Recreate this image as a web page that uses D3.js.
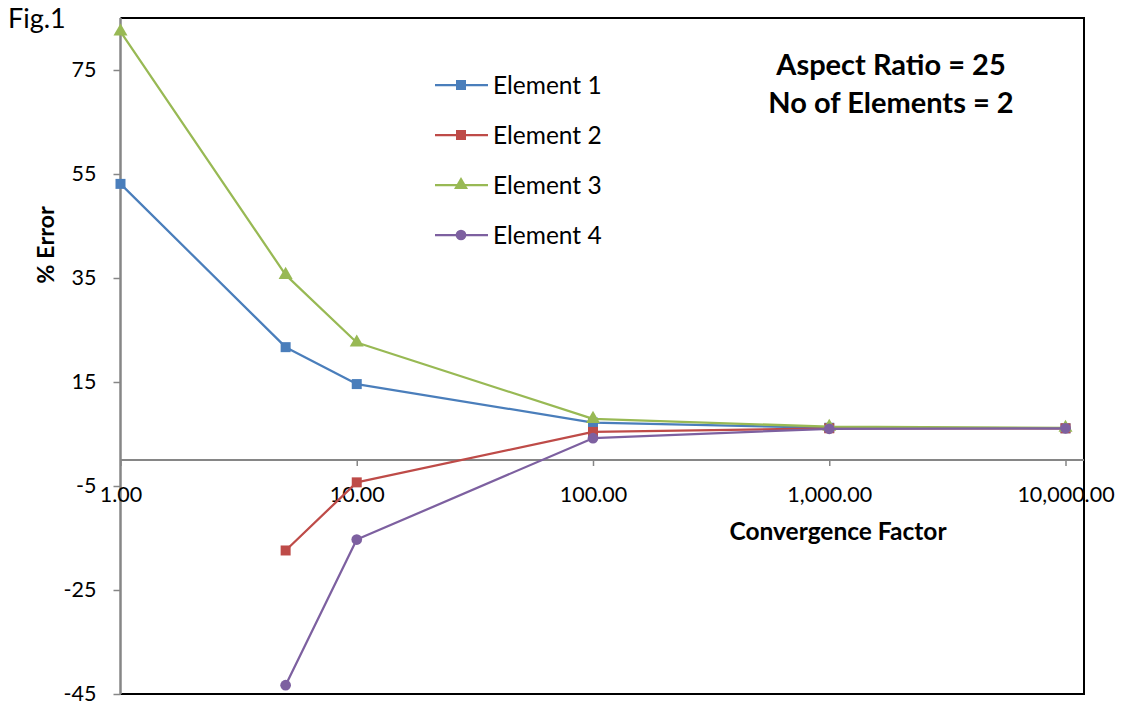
<!DOCTYPE html>
<html>
<head>
<meta charset="utf-8">
<script src="https://cdn.jsdelivr.net/npm/d3@7"></script>
<style>
  html, body { margin: 0; padding: 0; background: #ffffff; }
  svg { display: block; }
  text { font-family: Lato, "Open Sans", "Liberation Sans", sans-serif; fill: #000; }
</style>
</head>
<body>
<svg id="chart" width="1128" height="707"></svg>
<script>
// Convergence factor values on the (log) x axis
const factors = [1, 5, 10, 100, 1000, 10000];

// % error for each element, aligned with `factors` (null = no point)
const element1 = [53.1, 21.7, 14.6, 7.2, 6.2, 6.1];
const element2 = [null, -17.4, -4.3, 5.4, 6.1, 6.1];
const element3 = [82.4, 35.6, 22.6, 7.9, 6.4, 6.2];
const element4 = [null, -43.3, -15.3, 4.2, 6.0, 6.1];

const seriesNames = ["Element 1", "Element 2", "Element 3", "Element 4"];
const xTicks = [1, 10, 100, 1000, 10000];
const yTicks = [-45, -25, -5, 15, 35, 55, 75];

const seriesValues = [element1, element2, element3, element4];
const colors = ["#4A7EBB", "#BE4B48", "#98B954", "#7D60A0"];
const symbols = [d3.symbolSquare, d3.symbolSquare, d3.symbolTriangle, d3.symbolCircle];
const symbolSizes = [100, 100, 85, 90];

const svg = d3.select("#chart");

const plot = { left: 120.5, right: 1084, top: 18, bottom: 694 };

const x = d3.scaleLog().domain([1, 10000]).range([120.5, 1065.5]);
const y = d3.scaleLinear().domain([-45, 85]).range([plot.bottom, plot.top]);

// Plot frame (top, right, bottom)
svg.append("path")
  .attr("d", `M${plot.left},${plot.top} H${plot.right} V${plot.bottom} H${plot.left}`)
  .attr("fill", "none")
  .attr("stroke", "#000")
  .attr("stroke-width", 2);

// Y axis (plain hyphen for negatives)
const yAxis = svg.append("g")
  .attr("transform", `translate(${plot.left},0)`)
  .call(d3.axisLeft(y).tickValues(yTicks).tickFormat(d => String(d)).tickSize(7).tickSizeOuter(0).tickPadding(17));
yAxis.select(".domain").remove();
yAxis.selectAll(".tick line").attr("stroke", "#868686").attr("stroke-width", 1.5);
yAxis.selectAll("text").attr("font-size", 21.5).attr("fill", "#000")
  .style("font-family", "Lato, 'Open Sans', sans-serif");
svg.append("line")
  .attr("x1", plot.left).attr("x2", plot.left)
  .attr("y1", plot.top).attr("y2", plot.bottom)
  .attr("stroke", "#868686").attr("stroke-width", 2.5);

// X axis crossing at y = 0
const xAxis = svg.append("g")
  .attr("transform", `translate(0,${y(0)})`)
  .call(d3.axisBottom(x).tickValues(xTicks).tickFormat(d3.format(",.2f")).tickSize(6).tickSizeOuter(0).tickPadding(21));
xAxis.select(".domain").remove();
xAxis.selectAll(".tick line").attr("stroke", "#868686").attr("stroke-width", 1.5);
xAxis.selectAll("text").attr("font-size", 21.5).attr("fill", "#000")
  .style("font-family", "Lato, 'Open Sans', sans-serif");
svg.append("line")
  .attr("x1", plot.left).attr("x2", plot.right)
  .attr("y1", y(0)).attr("y2", y(0))
  .attr("stroke", "#868686").attr("stroke-width", 2);

// Axis titles
svg.append("text")
  .attr("x", 838).attr("y", 540)
  .attr("text-anchor", "middle")
  .attr("font-size", 24.5).attr("font-weight", "bold")
  .text("Convergence Factor");

svg.append("text")
  .attr("transform", "translate(54,245) rotate(-90)")
  .attr("text-anchor", "middle")
  .attr("font-size", 23.5).attr("font-weight", "bold")
  .text("% Error");

svg.append("text")
  .attr("x", 8).attr("y", 28)
  .attr("font-size", 27).attr("fill", "#3a3a3a")
  .text("Fig.1");

// Series lines and markers
const line = d3.line()
  .defined(d => d.v !== null)
  .x(d => x(d.f))
  .y(d => y(d.v));

seriesValues.forEach((vals, i) => {
  const pts = factors.map((f, j) => ({ f, v: vals[j] }));
  svg.append("path")
    .datum(pts)
    .attr("d", line)
    .attr("fill", "none")
    .attr("stroke", colors[i])
    .attr("stroke-width", 2.25)
    .attr("stroke-linejoin", "round");
  svg.append("g").selectAll("path")
    .data(pts.filter(d => d.v !== null))
    .join("path")
    .attr("transform", d => `translate(${x(d.f)},${y(d.v)})`)
    .attr("d", d3.symbol().type(symbols[i]).size(symbolSizes[i]))
    .attr("fill", colors[i]);
});

// Legend
const legend = svg.append("g");
seriesNames.forEach((name, i) => {
  const ly = 85 + i * 50;
  legend.append("line")
    .attr("x1", 435).attr("x2", 488).attr("y1", ly).attr("y2", ly)
    .attr("stroke", colors[i]).attr("stroke-width", 2.25);
  legend.append("path")
    .attr("transform", `translate(461,${ly})`)
    .attr("d", d3.symbol().type(symbols[i]).size(symbolSizes[i]))
    .attr("fill", colors[i]);
  legend.append("text")
    .attr("x", 493).attr("y", ly + 8.5)
    .attr("font-size", 24.5)
    .text(name);
});

// Annotation
svg.append("text")
  .attr("x", 891).attr("y", 75)
  .attr("text-anchor", "middle")
  .attr("font-size", 29).attr("font-weight", "bold")
  .text("Aspect Ratio = 25");
svg.append("text")
  .attr("x", 891).attr("y", 113)
  .attr("text-anchor", "middle")
  .attr("font-size", 29).attr("font-weight", "bold")
  .text("No of Elements = 2");
</script>
</body>
</html>
